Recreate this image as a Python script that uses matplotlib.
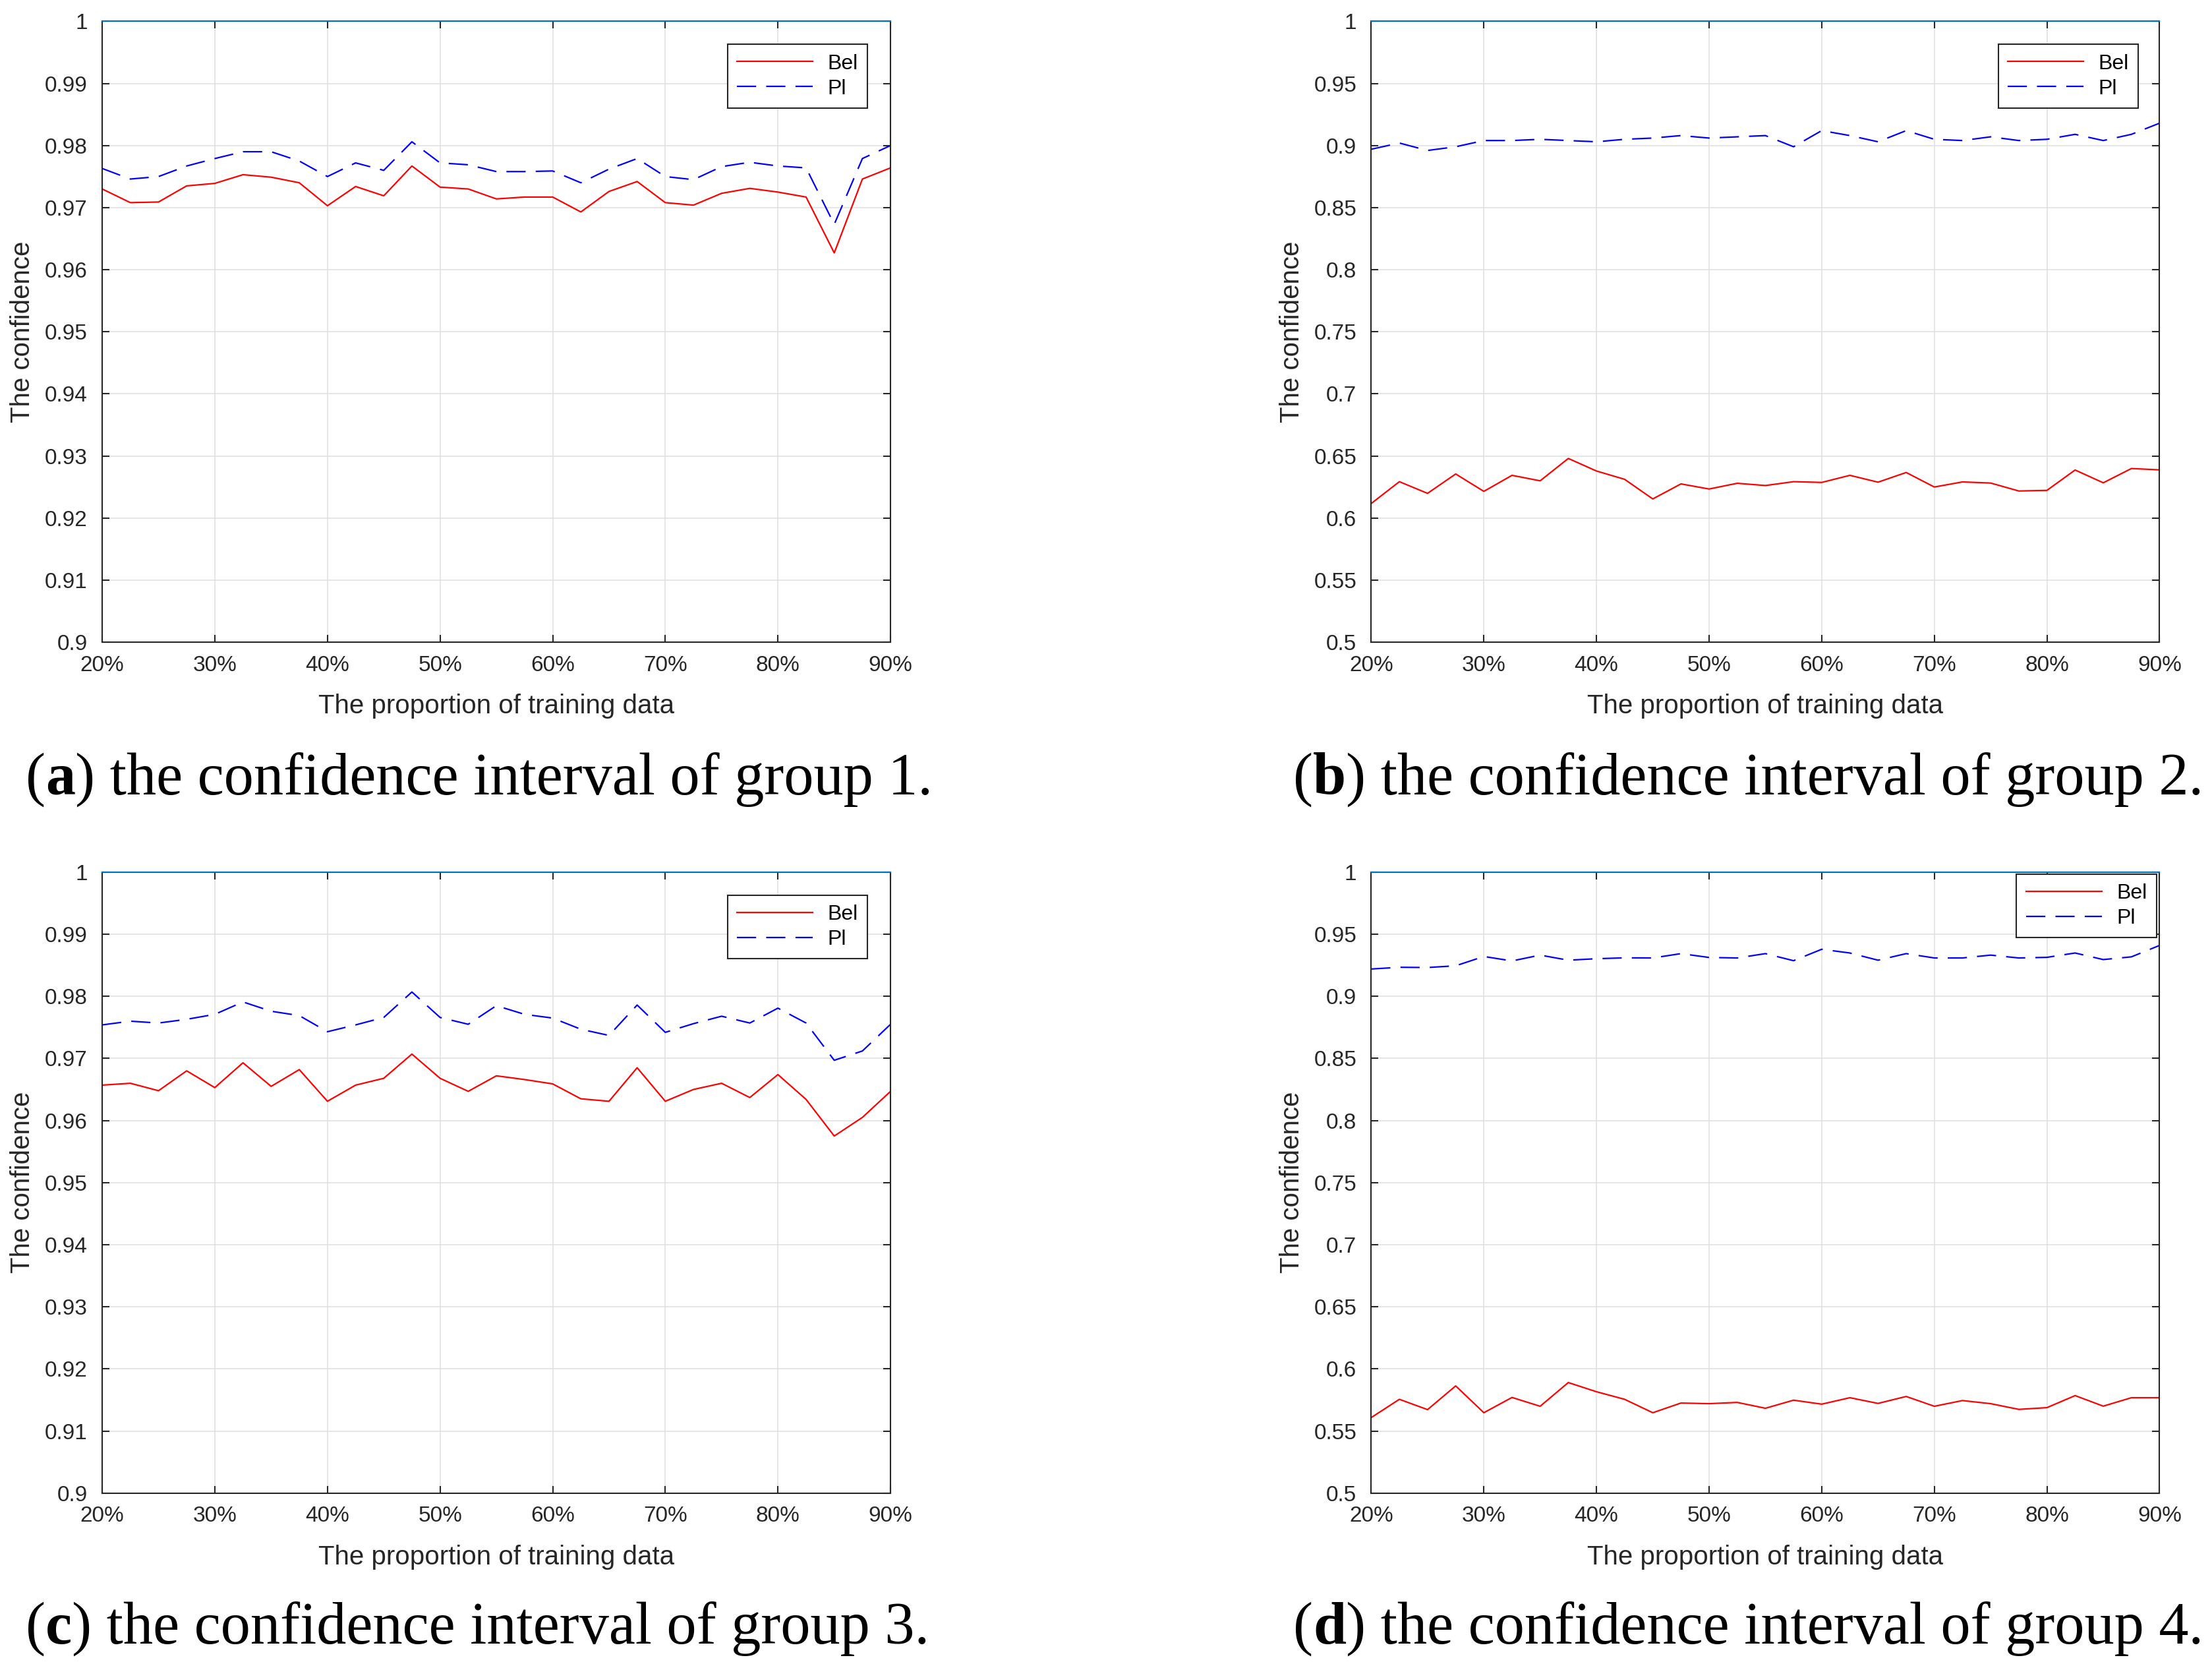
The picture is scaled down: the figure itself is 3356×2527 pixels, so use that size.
import matplotlib
matplotlib.use('Agg')
import matplotlib.pyplot as plt

plt.rcParams['font.family'] = ['Liberation Sans', 'DejaVu Sans']
plt.rcParams['lines.scale_dashes'] = False

# ---------------- data ----------------
x_vals = [20, 22.5, 25, 27.5, 30, 32.5, 35, 37.5, 40, 42.5, 45, 47.5, 50, 52.5, 55,
          57.5, 60, 62.5, 65, 67.5, 70, 72.5, 75, 77.5, 80, 82.5, 85, 87.5, 90]
x_ticks = [20, 30, 40, 50, 60, 70, 80, 90]
x_tick_labels = ['20%', '30%', '40%', '50%', '60%', '70%', '80%', '90%']

bel_a = [0.9730, 0.9708, 0.9709, 0.9735, 0.9739, 0.9753, 0.9749, 0.9740, 0.9703, 0.9734,
         0.9719, 0.9767, 0.9733, 0.9730, 0.9714, 0.9717, 0.9717, 0.9693, 0.9726, 0.9742,
         0.9708, 0.9704, 0.9723, 0.9731, 0.9725, 0.9717, 0.9627, 0.9746, 0.9764]
pl_a = [0.9763, 0.9746, 0.9750, 0.9767, 0.9779, 0.9790, 0.9790, 0.9775, 0.9750, 0.9772,
        0.9760, 0.9806, 0.9772, 0.9769, 0.9758, 0.9758, 0.9759, 0.9740, 0.9762, 0.9779,
        0.9750, 0.9745, 0.9766, 0.9773, 0.9767, 0.9764, 0.9673, 0.9779, 0.9800]

bel_b = [0.6117, 0.6293, 0.6199, 0.6355, 0.6215, 0.6344, 0.6300, 0.6480, 0.6379, 0.6312,
         0.6154, 0.6275, 0.6234, 0.6280, 0.6262, 0.6293, 0.6287, 0.6344, 0.6289, 0.6367,
         0.6250, 0.6291, 0.6282, 0.6218, 0.6223, 0.6387, 0.6284, 0.6399, 0.6388]
pl_b = [0.897, 0.902, 0.896, 0.899, 0.904, 0.904, 0.905, 0.904, 0.903, 0.905,
        0.906, 0.908, 0.906, 0.907, 0.908, 0.899, 0.912, 0.908, 0.903, 0.912,
        0.905, 0.904, 0.907, 0.904, 0.905, 0.909, 0.904, 0.909, 0.918]

bel_c = [0.9657, 0.9660, 0.9648, 0.9680, 0.9653, 0.9693, 0.9655, 0.9682, 0.9631, 0.9657,
         0.9668, 0.9707, 0.9668, 0.9647, 0.9672, 0.9666, 0.9659, 0.9635, 0.9631, 0.9685,
         0.9631, 0.9650, 0.9660, 0.9637, 0.9674, 0.9634, 0.9575, 0.9605, 0.9647]
pl_c = [0.9754, 0.9760, 0.9757, 0.9763, 0.9771, 0.9791, 0.9776, 0.9769, 0.9743, 0.9754,
        0.9766, 0.9807, 0.9766, 0.9755, 0.9785, 0.9771, 0.9765, 0.9747, 0.9737, 0.9786,
        0.9742, 0.9756, 0.9768, 0.9757, 0.9781, 0.9757, 0.9697, 0.9712, 0.9755]

bel_d = [0.5608, 0.5755, 0.5672, 0.5863, 0.5647, 0.5770, 0.5699, 0.5890, 0.5816, 0.5755,
         0.5647, 0.5725, 0.5720, 0.5730, 0.5683, 0.5748, 0.5716, 0.5768, 0.5722, 0.5778,
         0.5699, 0.5745, 0.5720, 0.5674, 0.5688, 0.5785, 0.5700, 0.5768, 0.5768]
pl_d = [0.9220, 0.9234, 0.9232, 0.9246, 0.9321, 0.9285, 0.9332, 0.9291, 0.9303, 0.9310,
        0.9309, 0.9344, 0.9313, 0.9309, 0.9344, 0.9287, 0.9379, 0.9349, 0.9291, 0.9344,
        0.9309, 0.9309, 0.9332, 0.9309, 0.9314, 0.9349, 0.9296, 0.9318, 0.9410]

yticks_fine = [0.9, 0.91, 0.92, 0.93, 0.94, 0.95, 0.96, 0.97, 0.98, 0.99, 1.0]
ytick_labels_fine = ['0.9', '0.91', '0.92', '0.93', '0.94', '0.95', '0.96', '0.97', '0.98', '0.99', '1']
yticks_coarse = [0.5, 0.55, 0.6, 0.65, 0.7, 0.75, 0.8, 0.85, 0.9, 0.95, 1.0]
ytick_labels_coarse = ['0.5', '0.55', '0.6', '0.65', '0.7', '0.75', '0.8', '0.85', '0.9', '0.95', '1']

series_names = ['Bel', 'Pl']
captions = [('a', ' the confidence interval of group 1.'),
            ('b', ' the confidence interval of group 2.'),
            ('c', ' the confidence interval of group 3.'),
            ('d', ' the confidence interval of group 4.')]

xlabel_text = 'The proportion of training data'
ylabel_text = 'The confidence'

# ---------------- styling ----------------
DARK = '#262626'
GRID = '#DFDFDF'
TOPBLUE = '#0072BD'
TICK_FS = 24
LABEL_FS = 29
LEG_FS = 23
CAP_FS = 65
SERIF = ['Liberation Serif', 'DejaVu Serif']

fig = plt.figure(figsize=(33.56, 25.27), dpi=100)

W, H = 0.3564, 0.3727
positions = [[0.0462, 0.6145, W, H], [0.6199, 0.6145, W, H],
             [0.0462, 0.1038, W, H], [0.6199, 0.1038, W, H]]
panels = [(bel_a, pl_a, 'fine'), (bel_b, pl_b, 'coarse'),
          (bel_c, pl_c, 'fine'), (bel_d, pl_d, 'coarse')]
legend_anchor = [(0.971, 0.963), (0.973, 0.963), (0.971, 0.963), (0.996, 0.997)]

for k, (pos, (bel, pl, kind)) in enumerate(zip(positions, panels)):
    ax = fig.add_axes(pos)
    ax.plot(x_vals, bel, color='#FF0000', lw=1.6, ls='-', label=series_names[0])
    ax.plot(x_vals, pl, color='#0000FF', lw=1.6, ls=(0, (21, 11)), label=series_names[1])
    ax.set_xlim(20, 90)
    if kind == 'fine':
        ax.set_ylim(0.9, 1.0)
        ax.set_yticks(yticks_fine)
        ax.set_yticklabels(ytick_labels_fine)
    else:
        ax.set_ylim(0.5, 1.0)
        ax.set_yticks(yticks_coarse)
        ax.set_yticklabels(ytick_labels_coarse)
    ax.set_xticks(x_ticks)
    ax.set_xticklabels(x_tick_labels)
    ax.grid(True, color=GRID, lw=1.1)
    ax.set_axisbelow(True)
    for side in ['left', 'right', 'bottom']:
        ax.spines[side].set_color(DARK)
        ax.spines[side].set_linewidth(1.5)
    ax.spines['top'].set_color(TOPBLUE)
    ax.spines['top'].set_linewidth(1.6)
    ax.tick_params(axis='both', which='major', direction='in', length=8, width=1.5,
                   color=DARK, labelcolor=DARK, labelsize=TICK_FS,
                   top=True, right=True)
    ax.tick_params(axis='y', pad=16)
    ax.tick_params(axis='x', pad=14)
    ax.set_xlabel(xlabel_text, fontsize=LABEL_FS, color=DARK)
    ax.set_ylabel(ylabel_text, fontsize=LABEL_FS, color=DARK)
    ax.xaxis.set_label_coords(0.5, -0.103)
    ax.xaxis.label.set_va('center')
    ax.yaxis.set_label_coords(-0.101, 0.5)
    ax.yaxis.label.set_va('center')
    leg = ax.legend(loc='upper right', bbox_to_anchor=legend_anchor[k],
                    fontsize=LEG_FS, fancybox=False, framealpha=1,
                    edgecolor=DARK, handlelength=3.6, handletextpad=0.7,
                    borderpad=0.45, labelspacing=0.25, borderaxespad=0)
    leg.get_frame().set_linewidth(1.5)

# captions
renderer = fig.canvas.get_renderer()
cap_pos = [(0.0115, 0.5235), (0.5846, 0.5235), (0.0115, 0.0135), (0.5846, 0.0135)]
for (letter, rest), (cx, cy) in zip(captions, cap_pos):
    t1 = fig.text(cx, cy, '(', fontsize=CAP_FS, family=SERIF, va='baseline', color='black')
    bb = t1.get_window_extent(renderer)
    x2 = fig.transFigure.inverted().transform((bb.x1, 0))[0]
    t2 = fig.text(x2, cy, letter, fontsize=CAP_FS, family=SERIF, weight='bold',
                  va='baseline', color='black')
    bb = t2.get_window_extent(renderer)
    x3 = fig.transFigure.inverted().transform((bb.x1, 0))[0]
    fig.text(x3, cy, ')' + rest, fontsize=CAP_FS, family=SERIF, va='baseline', color='black')

fig.savefig('out.png', dpi=100, facecolor='white')
